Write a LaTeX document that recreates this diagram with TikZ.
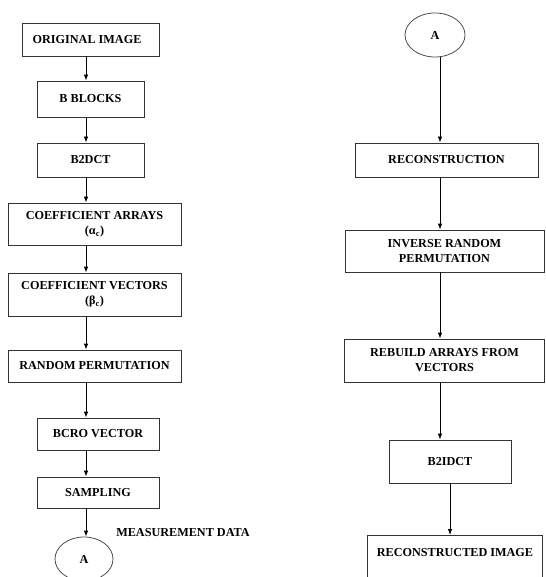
\documentclass[tikz,border=0pt]{standalone}
\usepackage{fontspec}
\setmainfont{Liberation Serif}
\usetikzlibrary{arrows.meta,shapes.geometric}
\tikzset{
  box/.style={draw=black!80, line width=0.8pt, rectangle, inner sep=0pt, align=center,
    font=\fontsize{12.2}{15}\selectfont\bfseries},
  oval/.style={draw=black!70, line width=0.8pt, ellipse, inner sep=0pt,
    font=\fontsize{12.2}{15}\selectfont\bfseries},
  lbl/.style={inner sep=0pt, font=\fontsize{12.2}{15}\selectfont\bfseries},
  arr/.style={line width=0.8pt, -{Latex[length=6pt,width=4.5pt]}}
}
\begin{document}
\begin{tikzpicture}[x=1pt,y=-1pt]
\useasboundingbox (0,0) rectangle (545,577);
% left column
\node[box, minimum width=137, minimum height=33] (orig) at (90.5,39.5) {ORIGINAL IMAGE\hspace*{7pt}};
\node[box, minimum width=107, minimum height=36] (bblk) at (90.5,99) {B BLOCKS};
\node[box, minimum width=107, minimum height=34] (bdct) at (90.5,160) {B2DCT};
\node[box, minimum width=173, minimum height=42] (carr) at (94.5,224) {COEFFICIENT ARRAYS\\(α\textsubscript{c})};
\node[box, minimum width=173, minimum height=43] (cvec) at (94.5,294.5) {COEFFICIENT VECTORS\\(β\textsubscript{c})};
\node[box, minimum width=173, minimum height=32] (rperm) at (94.5,366) {RANDOM PERMUTATION};
\node[box, minimum width=122, minimum height=32] (bcro) at (98,434) {BCRO VECTOR};
\node[box, minimum width=122, minimum height=31] (samp) at (98,492.5) {SAMPLING};
\node[oval, minimum width=58, minimum height=44] (aone) at (84,559) {A};
\node[lbl] (meas) at (183,533) {MEASUREMENT DATA};
\coordinate (lx) at (86,0);
\foreach \p/\q in {orig/bblk, bblk/bdct, bdct/carr, carr/cvec, cvec/rperm, rperm/bcro, bcro/samp, samp/aone}
  \draw[arr] (\p.south -| lx) -- (\q.north -| lx);
% right column
\node[oval, minimum width=60, minimum height=44] (atwo) at (435,35) {A};
\node[box, minimum width=183, minimum height=34] (recon) at (446.5,160) {RECONSTRUCTION};
\node[box, minimum width=199, minimum height=42] (inv) at (444.5,251) {INVERSE RANDOM\\PERMUTATION};
\node[box, minimum width=200, minimum height=43] (rebuild) at (444.5,360.5) {REBUILD ARRAYS FROM\\VECTORS};
\node[box, minimum width=122, minimum height=43] (bidct) at (450,461.5) {B2IDCT};
\node[box, minimum width=175, minimum height=60, anchor=north] (recimg) at (454.5,535) {};
\node[lbl] (recimgt) at (455,553) {RECONSTRUCTED IMAGE};
\coordinate (rx) at (440,0);
\coordinate (rx2) at (450,0);
\draw[arr] (atwo.south -| rx) -- (recon.north -| rx);
\draw[arr] (recon.south -| rx) -- (inv.north -| rx);
\draw[arr] (inv.south -| rx) -- (rebuild.north -| rx);
\draw[arr] (rebuild.south -| rx) -- (bidct.north -| rx);
\draw[arr] (bidct.south -| rx2) -- (recimg.north -| rx2);
\end{tikzpicture}
\end{document}
